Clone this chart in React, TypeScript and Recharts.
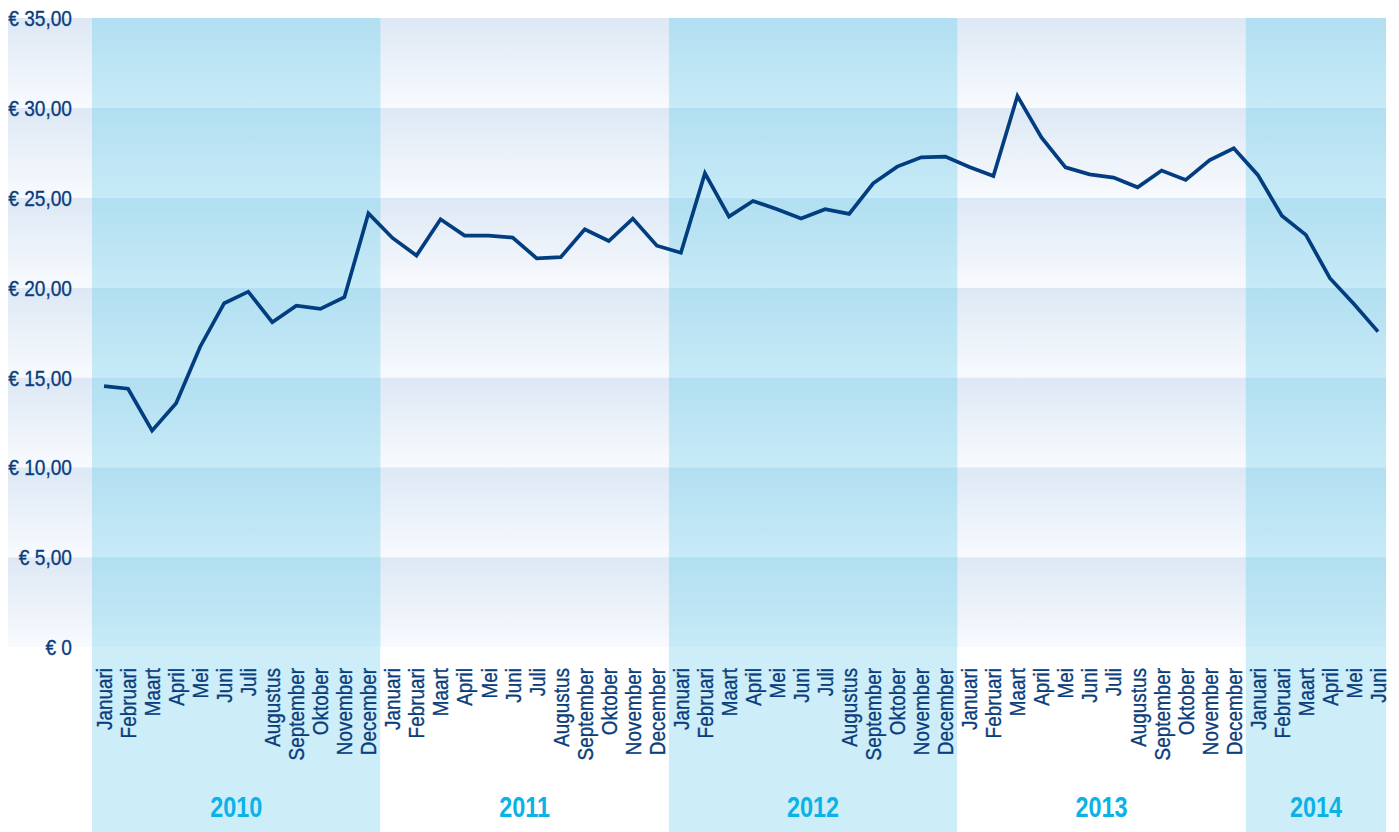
import type { JSX } from 'react'
import { LineChart, Line, XAxis, YAxis, ReferenceArea } from 'recharts'

const MONTHS = [
  'Januari', 'Februari', 'Maart', 'April', 'Mei', 'Juni',
  'Juli', 'Augustus', 'September', 'Oktober', 'November', 'December',
]
const YEARS = [2010, 2011, 2012, 2013, 2014]
const SHADED_YEARS = [2010, 2012, 2014]

const PRICES_2010 = [14.52, 14.37, 12.04, 13.56, 16.71, 19.13, 19.77, 18.07, 18.99, 18.81, 19.46, 24.13]
const PRICES_2011 = [22.76, 21.78, 23.8, 22.89, 22.89, 22.78, 21.63, 21.69, 23.24, 22.59, 23.84, 22.33]
const PRICES_2012 = [21.94, 26.36, 23.95, 24.82, 24.36, 23.84, 24.36, 24.1, 25.8, 26.73, 27.25, 27.29]
const PRICES_2013 = [26.71, 26.21, 30.66, 28.36, 26.69, 26.3, 26.12, 25.58, 26.51, 25.99, 27.1, 27.75]
const PRICES_2014 = [26.27, 24.0, 22.93, 20.52, 19.09, 17.55]

const PRICES_BY_YEAR: Record<number, number[]> = {
  2010: PRICES_2010,
  2011: PRICES_2011,
  2012: PRICES_2012,
  2013: PRICES_2013,
  2014: PRICES_2014,
}

const Y_TICKS = [0, 5, 10, 15, 20, 25, 30, 35]

const WIDTH = 1399
const HEIGHT = 832
const LEFT = 8
const CLIP_RIGHT = 1386
const FONT = "'Liberation Sans', Arial, sans-serif"
const NAVY = '#0a3d7c'
const LINE = '#023e7f'
const CYAN_TEXT = '#0ab2e6'

const data = YEARS.flatMap((year) =>
  PRICES_BY_YEAR[year].map((price, m) => ({ key: `${year}-${m}`, month: MONTHS[m], price })),
)

const formatEuro = (v: number) => (v === 0 ? '€ 0' : `€ ${v},00`)

function MonthTick({ x, y, payload }: any): JSX.Element {
  const m = Number(String(payload.value).split('-')[1])
  return (
    <g transform={`translate(${x},${y}) rotate(-90) scale(0.86,1)`}>
      <text
        x={0}
        y={0}
        textAnchor="end"
        dy="0.36em"
        fill={NAVY}
        stroke={NAVY}
        strokeWidth={0.35}
        fontFamily={FONT}
        fontSize={22}
      >
        {MONTHS[m]}
      </text>
    </g>
  )
}

function EuroTick({ x, y, payload }: any): JSX.Element {
  return (
    <g transform={`translate(${x},${y}) scale(0.85,1)`}>
      <text
        x={0}
        y={0}
        textAnchor="end"
        dy="0.36em"
        fill={NAVY}
        stroke={NAVY}
        strokeWidth={0.35}
        fontFamily={FONT}
        fontSize={22.5}
      >
        {formatEuro(payload.value)}
      </text>
    </g>
  )
}

function YearColumn(props: any, year: number, shaded: boolean): JSX.Element {
  const { x, y, width } = props
  const right = Math.min(x + width, CLIP_RIGHT)
  return (
    <g>
      <rect x={x} y={y} width={right - x} height={HEIGHT - y} fill={shaded ? '#cdeef9' : '#ffffff'} />
      <g transform={`translate(${(x + right) / 2},817) scale(0.78,1)`}>
        <text x={0} y={0} textAnchor="middle" fill={CYAN_TEXT} fontFamily={FONT} fontWeight="bold" fontSize={30}>
          {year}
        </text>
      </g>
    </g>
  )
}

function Stripe(props: any): JSX.Element {
  const { y, height } = props
  return <rect x={LEFT} y={y} width={CLIP_RIGHT - LEFT} height={height} fill="url(#greyBand)" />
}

function Cell(props: any): JSX.Element {
  const { x, y, width, height } = props
  const right = Math.min(x + width, CLIP_RIGHT)
  return <rect x={x} y={y} width={right - x} height={height} fill="url(#blueBand)" />
}

export default function App(): JSX.Element {
  return (
    <div style={{ width: WIDTH, height: HEIGHT }}>
      <style>{'html,body{margin:0;padding:0;overflow:hidden;}'}</style>
      <LineChart width={WIDTH} height={HEIGHT} data={data} margin={{ top: 18, right: 9, left: LEFT, bottom: 0 }}>
        <defs>
          <linearGradient id="greyBand" x1="0" y1="0" x2="0" y2="1">
            <stop offset="0%" stopColor="#dde8f5" />
            <stop offset="100%" stopColor="#f8fafd" />
          </linearGradient>
          <linearGradient id="blueBand" x1="0" y1="0" x2="0" y2="1">
            <stop offset="0%" stopColor="#b1dff1" />
            <stop offset="100%" stopColor="#c7eaf7" />
          </linearGradient>
        </defs>
        <XAxis
          dataKey="key"
          scale="band"
          interval={0}
          height={185}
          axisLine={false}
          tickLine={false}
          tickMargin={15}
          tick={MonthTick}
        />
        <YAxis
          domain={[0, 35]}
          ticks={Y_TICKS}
          width={84}
          axisLine={false}
          tickLine={false}
          tickMargin={14}
          tick={EuroTick}
        />
        {YEARS.map((year) => {
          const n = PRICES_BY_YEAR[year].length
          const shaded = SHADED_YEARS.includes(year)
          return (
            <ReferenceArea
              key={`col-${year}`}
              x1={`${year}-0`}
              x2={`${year}-${n - 1}`}
              shape={(p: any) => YearColumn(p, year, shaded)}
            />
          )
        })}
        {Y_TICKS.slice(0, -1).map((v) => (
          <ReferenceArea key={`stripe-${v}`} y1={v} y2={v + 5} shape={Stripe} />
        ))}
        {SHADED_YEARS.flatMap((year) =>
          Y_TICKS.slice(0, -1).map((v) => (
            <ReferenceArea
              key={`cell-${year}-${v}`}
              x1={`${year}-0`}
              x2={`${year}-${PRICES_BY_YEAR[year].length - 1}`}
              y1={v}
              y2={v + 5}
              shape={Cell}
            />
          )),
        )}
        <Line
          type="linear"
          dataKey="price"
          stroke={LINE}
          strokeWidth={3.7}
          strokeLinejoin="miter"
          dot={false}
          activeDot={false}
          isAnimationActive={false}
        />
      </LineChart>
    </div>
  )
}
